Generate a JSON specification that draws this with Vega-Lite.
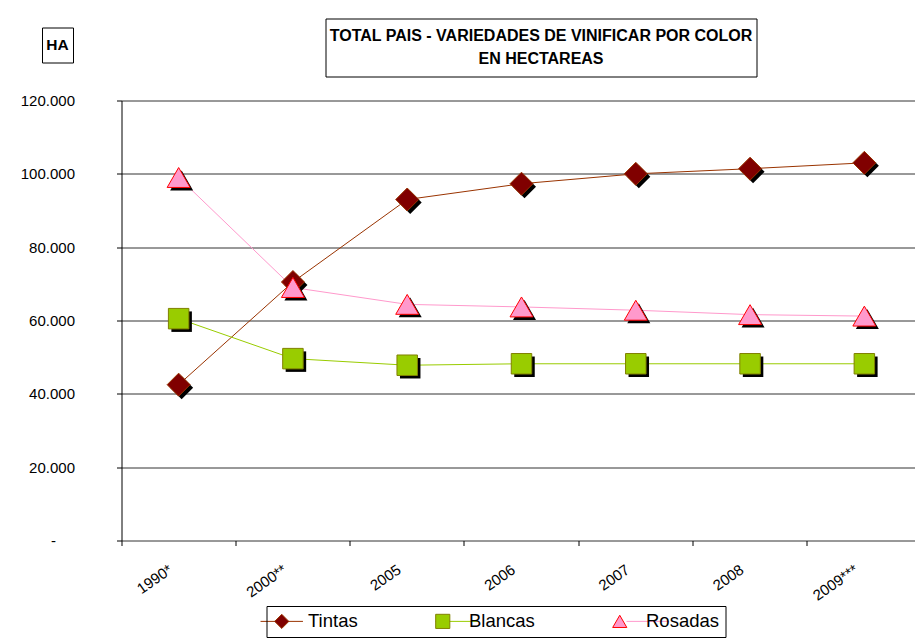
{
  "$schema": "https://vega.github.io/schema/vega-lite/v6.json",
  "background": "white",
  "padding": {"left": 20, "top": 17.5, "right": 0, "bottom": 0},
  "config": {
    "view": {"stroke": null},
    "font": "Liberation Sans, Arial, sans-serif",
    "legend": {
      "orient": "none", "legendX": 224.5, "legendY": 587.5, "direction": "horizontal",
      "symbolSize": 200, "symbolStrokeWidth": 1,
      "labelFontSize": 18.5, "labelOffset": 17, "labelFont": "Liberation Sans",
      "columnPadding": 75, "padding": 6
    }
  },
  "bounds": "flush",
  "spacing": 79.5,
  "hconcat": [
    {
      "bounds": "flush",
      "spacing": 0,
      "vconcat": [
        {"width": 31, "height": 9, "data": {"values": []}, "mark": "point"},
        {
          "width": 31, "height": 35,
          "view": {"stroke": "black", "fill": "white", "strokeWidth": 1},
          "data": {"values": [{"rotulo": "HA"}]},
          "mark": {"type": "text", "fontSize": 15.5, "fontWeight": "bold", "color": "black", "align": "center", "baseline": "middle"},
          "encoding": {"text": {"field": "rotulo"}}
        }
      ]
    },
    {
      "bounds": "flush",
      "spacing": 82,
      "vconcat": [
        {
          "bounds": "flush",
          "spacing": 0,
          "hconcat": [
            {"width": 204, "height": 1, "data": {"values": []}, "mark": "point"},
            {
              "width": 431, "height": 58,
              "view": {"stroke": "black", "fill": "white", "strokeWidth": 1},
              "data": {"values": [{"titulo": "TOTAL PAIS - VARIEDADES DE VINIFICAR POR COLOR\nEN HECTAREAS"}]},
              "mark": {"type": "text", "fontSize": 16, "fontWeight": "bold", "color": "black", "align": "center", "baseline": "middle", "lineBreak": "\n", "lineHeight": 23, "dy": -11.5},
              "encoding": {"text": {"field": "titulo"}}
            }
          ]
        },
        {
          "width": 794,
          "height": 440,
          "data": {
            "values": [
              {"anio": "1990*", "serie": "Tintas", "valor": 42500},
              {"anio": "1990*", "serie": "Blancas", "valor": 60500},
              {"anio": "1990*", "serie": "Rosadas", "valor": 99000},
              {"anio": "2000**", "serie": "Tintas", "valor": 70500},
              {"anio": "2000**", "serie": "Blancas", "valor": 49600},
              {"anio": "2000**", "serie": "Rosadas", "valor": 69000},
              {"anio": "2005", "serie": "Tintas", "valor": 93000},
              {"anio": "2005", "serie": "Blancas", "valor": 47800},
              {"anio": "2005", "serie": "Rosadas", "valor": 64400},
              {"anio": "2006", "serie": "Tintas", "valor": 97300},
              {"anio": "2006", "serie": "Blancas", "valor": 48200},
              {"anio": "2006", "serie": "Rosadas", "valor": 63700},
              {"anio": "2007", "serie": "Tintas", "valor": 100000},
              {"anio": "2007", "serie": "Blancas", "valor": 48200},
              {"anio": "2007", "serie": "Rosadas", "valor": 62800},
              {"anio": "2008", "serie": "Tintas", "valor": 101400},
              {"anio": "2008", "serie": "Blancas", "valor": 48200},
              {"anio": "2008", "serie": "Rosadas", "valor": 61600},
              {"anio": "2009***", "serie": "Tintas", "valor": 103000},
              {"anio": "2009***", "serie": "Blancas", "valor": 48200},
              {"anio": "2009***", "serie": "Rosadas", "valor": 61200}
            ]
          },
          "encoding": {
            "x": {
              "field": "anio", "type": "nominal", "sort": null,
              "scale": {"type": "band", "paddingInner": 0, "paddingOuter": 0, "range": [0, 800]},
              "axis": {
                "title": null, "domain": false, "grid": false,
                "bandPosition": 0, "tickExtra": false,
                "ticks": true, "tickSize": 5, "tickColor": "black", "tickWidth": 1,
                "labelAngle": -35, "labelAlign": "right", "labelBaseline": "middle",
                "labelPadding": 22, "labelOffset": -8,
                "labelFontSize": 15, "labelColor": "black"
              }
            },
            "y": {
              "field": "valor", "type": "quantitative",
              "scale": {"domain": [0, 120000]},
              "axis": {
                "title": null,
                "values": [0, 20000, 40000, 60000, 80000, 100000, 120000],
                "labelExpr": "datum.value == 0 ? '-' : replace(format(datum.value, ','), ',', '.')",
                "labelFontSize": 15, "labelColor": "black",
                "labelPadding": {"condition": {"test": "datum.value == 0", "value": 61}, "value": 42},
                "tickSize": 5, "tickColor": "black", "domainColor": "black",
                "grid": true, "gridColor": "#333333", "gridWidth": 1, "gridOpacity": 1
              }
            }
          },
          "layer": [
            {
              "mark": {"type": "line", "strokeWidth": 1},
              "encoding": {
                "color": {
                  "field": "serie", "type": "nominal",
                  "sort": ["Tintas", "Blancas", "Rosadas"],
                  "scale": {"range": ["#993300", "#99CC00", "#FF99CC"]},
                  "legend": {"title": null, "symbolType": "M-3,0H3", "symbolStrokeWidth": 1, "labelColor": "rgba(0,0,0,0)", "strokeColor": "rgba(0,0,0,0)", "fillColor": "white"}
                }
              }
            },
            {
              "transform": [{"filter": "datum.serie == 'Tintas'"}],
              "mark": {"type": "point", "shape": "diamond", "filled": true, "color": "black", "opacity": 1, "size": 529, "xOffset": 3, "yOffset": 3}
            },
            {
              "transform": [{"filter": "datum.serie == 'Blancas'"}],
              "mark": {"type": "point", "shape": "square", "filled": true, "color": "black", "opacity": 1, "size": 420, "xOffset": 3, "yOffset": 3}
            },
            {
              "transform": [{"filter": "datum.serie == 'Rosadas'"}],
              "mark": {"type": "point", "shape": "triangle-up", "filled": true, "color": "black", "opacity": 1, "size": 529, "xOffset": 3, "yOffset": 3}
            },
            {
              "mark": {"type": "point", "filled": true, "opacity": 1, "strokeWidth": 1},
              "encoding": {
                "shape": {
                  "field": "serie", "type": "nominal",
                  "scale": {"domain": ["Tintas", "Blancas", "Rosadas"], "range": ["diamond", "square", "triangle-up"]},
                  "legend": {"title": null, "labelColor": "black", "strokeColor": "black", "fillColor": "rgba(0,0,0,0)"}
                },
                "fill": {
                  "field": "serie", "type": "nominal",
                  "scale": {"domain": ["Tintas", "Blancas", "Rosadas"], "range": ["#800000", "#99CC00", "#FF99CC"]},
                  "legend": {"title": null, "labelColor": "black", "strokeColor": "black", "fillColor": "rgba(0,0,0,0)"}
                },
                "stroke": {
                  "field": "serie", "type": "nominal",
                  "scale": {"domain": ["Tintas", "Blancas", "Rosadas"], "range": ["#993300", "#808000", "#FF0000"]},
                  "legend": {"title": null, "labelColor": "black", "strokeColor": "black", "fillColor": "rgba(0,0,0,0)"}
                },
                "size": {"condition": {"test": "datum.serie == 'Blancas'", "value": 420}, "value": 529}
              }
            }
          ]
        }
      ]
    }
  ]
}
